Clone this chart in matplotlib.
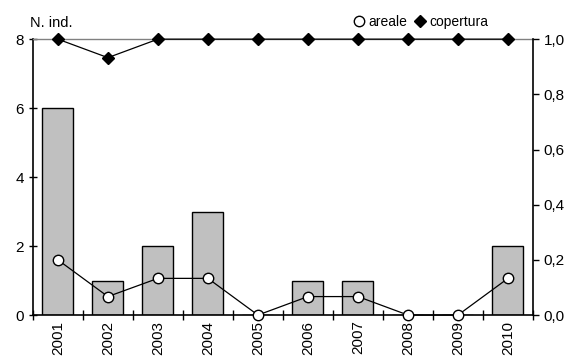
import matplotlib
matplotlib.use("Agg")
import matplotlib.pyplot as plt
import numpy as np

years = ["2001", "2002", "2003", "2004", "2005", "2006", "2007", "2008", "2009", "2010"]
n_ind = [6, 1, 2, 3, 0, 1, 1, 0, 0, 2]
areale = [0.2, 0.067, 0.133, 0.133, 0.0, 0.067, 0.067, 0.0, 0.0, 0.133]
copertura = [1.0, 0.933, 1.0, 1.0, 1.0, 1.0, 1.0, 1.0, 1.0, 1.0]
left_ticks = [0, 2, 4, 6, 8]
right_ticks = [0.0, 0.2, 0.4, 0.6, 0.8, 1.0]
right_labels = ["0,0", "0,2", "0,4", "0,6", "0,8", "1,0"]

plt.rcParams['font.family'] = ['Liberation Sans', 'DejaVu Sans']
fig = plt.figure(figsize=(5.67, 3.56), dpi=100)
ax = fig.add_axes([0.058, 0.115, 0.882, 0.775])
x = np.arange(len(years))
ax.bar(x, n_ind, width=0.62, color="#C0C0C0", edgecolor="black", linewidth=1.0, zorder=2)
ax.set_xlim(-0.5, len(years) - 0.5)
ax.set_ylim(0, 8)
ax.set_yticks(left_ticks)
ax.set_xticks(x)
ax.set_xticklabels(years, rotation=90, fontsize=11)
ax.tick_params(axis='x', length=0, pad=4)
ax.set_xticks(np.arange(-0.5, len(years), 1.0), minor=True)
ax.tick_params(axis='x', which='minor', direction='inout', length=7, width=1)
ax.tick_params(axis='y', direction='inout', length=6, width=1, labelsize=11)
for s in ['left', 'bottom']:
    ax.spines[s].set_linewidth(1.2)
ax.spines['top'].set_color('#808080')
ax.spines['top'].set_linewidth(1.0)
ax.spines['right'].set_visible(False)

ax2 = ax.twinx()
ax2.set_ylim(0, 1.0)
ax2.set_yticks(right_ticks)
ax2.set_yticklabels(right_labels)
ax2.tick_params(axis='y', direction='out', length=4, width=1, labelsize=11)
for s in ['left', 'top', 'bottom']:
    ax2.spines[s].set_visible(False)
ax2.spines['right'].set_linewidth(1.2)
ax2.plot(x, areale, color="black", linewidth=0.9, marker='o', markersize=7.5,
         markerfacecolor='white', markeredgecolor='black', markeredgewidth=1.0,
         label="areale", zorder=3, clip_on=False)
ax2.plot(x, copertura, color="black", linewidth=0.9, marker='D', markersize=6.5,
         markerfacecolor='black', markeredgecolor='black',
         label="copertura", zorder=3, clip_on=False)

fig.text(0.053, 0.925, "N. ind.", fontsize=10.5, ha='left', va='baseline')
leg = fig.legend(loc='upper center', bbox_to_anchor=(0.742, 0.985), ncol=2, frameon=False,
                 fontsize=10, handlelength=0.8, handletextpad=0.3, columnspacing=0.5,
                 borderaxespad=0.3, markerscale=1.0)
for h in leg.legend_handles:
    h.set_linestyle('None')
fig.savefig("out.png", dpi=100)
